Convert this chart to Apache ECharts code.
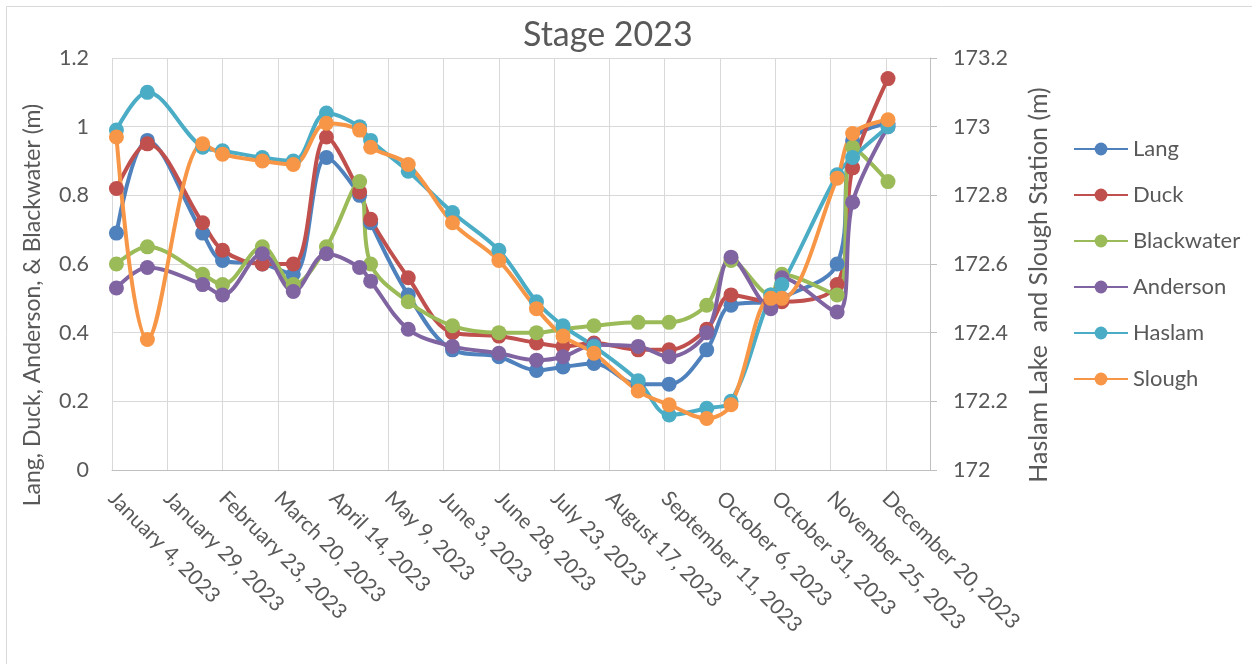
<!DOCTYPE html>
<html>
<head>
<meta charset="utf-8">
<script src="https://cdn.jsdelivr.net/npm/echarts@6/dist/echarts.min.js"></script>
<style>
html,body{margin:0;padding:0;background:#fff;}
#c{width:1252px;height:664px;}
</style>
</head>
<body>
<div id="c"></div>
<script>
// ---- data ----
const dates = ['2023-01-06','2023-01-20','2023-02-14','2023-02-23','2023-03-13','2023-03-27',
  '2023-04-11','2023-04-26','2023-05-01','2023-05-18','2023-06-07','2023-06-28',
  '2023-07-15','2023-07-27','2023-08-10','2023-08-30','2023-09-13','2023-09-30',
  '2023-10-11','2023-10-29','2023-11-03','2023-11-28','2023-12-05','2023-12-21'];
const lang       = [0.69,0.96,0.69,0.61,0.60,0.57,0.91,0.80,0.72,0.51,0.35,0.33,0.29,0.30,0.31,0.25,0.25,0.35,0.48,0.49,0.50,0.60,0.96,1.01];
const duck       = [0.82,0.95,0.72,0.64,0.60,0.60,0.97,0.81,0.73,0.56,0.40,0.39,0.37,0.36,0.37,0.35,0.35,0.41,0.51,0.49,0.49,0.54,0.88,1.14];
const blackwater = [0.60,0.65,0.57,0.54,0.65,0.54,0.65,0.84,0.60,0.49,0.42,0.40,0.40,0.41,0.42,0.43,0.43,0.48,0.61,0.51,0.57,0.51,0.94,0.84];
const anderson   = [0.53,0.59,0.54,0.51,0.63,0.52,0.63,0.59,0.55,0.41,0.36,0.34,0.32,0.33,0.365,0.36,0.33,0.40,0.62,0.47,0.56,0.46,0.78,1.00];
const haslam     = [172.99,173.10,172.94,172.93,172.91,172.90,173.04,173.00,172.96,172.87,172.75,172.64,172.49,172.42,172.36,172.26,172.16,172.18,172.20,172.51,172.54,172.86,172.91,173.00];
const slough     = [172.97,172.38,172.95,172.92,172.90,172.89,173.01,172.99,172.94,172.89,172.72,172.61,172.47,172.39,172.34,172.23,172.19,172.15,172.19,172.50,172.50,172.85,172.98,173.02];
const axisStart = '2023-01-04';
const axisEndDays = 370;
const tickDays = 25;
const titleText = 'Stage 2023';
const leftName = 'Lang, Duck, Anderson, & Blackwater (m)';
const rightName = 'Haslam Lake  and Slough Station (m)';

// ---- helpers ----
const DAY = 86400000;
const MONTHS = ['January','February','March','April','May','June','July','August','September','October','November','December'];
function utc(s){ const p = s.split('-').map(Number); return Date.UTC(p[0], p[1]-1, p[2]); }
const X0 = utc(axisStart);
function dayOf(s){ return Math.round((utc(s) - X0) / DAY); }
function fmt(v){ const d = new Date(X0 + v*DAY); return MONTHS[d.getUTCMonth()] + ' ' + d.getUTCDate() + ', ' + d.getUTCFullYear(); }
function pts(vals){ return dates.map((d,i) => [dayOf(d), vals[i]]); }

const FONT = 'Lato, "Liberation Sans", sans-serif';
const TXT = '#595959';

function line(name, vals, color, yIdx){
  return {
    name, type:'line', yAxisIndex:yIdx, data:pts(vals),
    smooth:0.35, symbol:'circle', symbolSize:15,
    lineStyle:{width:4, color}, itemStyle:{color},
    emphasis:{disabled:true}
  };
}

const chart = echarts.init(document.getElementById('c'), null, {renderer:'canvas'});
chart.setOption({
  animation:false,
  backgroundColor:'#fff',
  textStyle:{fontFamily:FONT},
  title:{text:titleText, left:518, top:13,
    textStyle:{fontSize:34, fontWeight:'normal', color:TXT, fontFamily:FONT}},
  graphic:[{type:'rect', silent:true, z:-1,
    shape:{x:6.5, y:6.5, width:1300, height:700},
    style:{fill:'none', stroke:'#d9d9d9', lineWidth:1}}],
  legend:{orient:'vertical', left:1068, top:133, itemWidth:54, itemHeight:16, itemGap:24,
    textStyle:{fontSize:22, color:TXT, fontFamily:FONT},
    data:['Lang','Duck','Blackwater','Anderson','Haslam','Slough']},
  grid:{left:112, right:322, top:58, bottom:194, containLabel:false},
  xAxis:{type:'value', min:0, max:axisEndDays, interval:tickDays,
    axisLine:{show:true, lineStyle:{color:'#bfbfbf', width:1}},
    axisTick:{show:false},
    splitLine:{show:true, lineStyle:{color:'#d9d9d9', width:1}},
    axisLabel:{rotate:-45, margin:25, fontSize:21, color:TXT, fontFamily:FONT,
      formatter:fmt, showMaxLabel:false}},
  yAxis:[
    {type:'value', position:'left', min:0, max:1.2, interval:0.2,
      axisLine:{show:false}, axisTick:{show:false},
      splitLine:{show:true, lineStyle:{color:'#d9d9d9', width:1}},
      axisLabel:{margin:23, fontSize:21.5, color:TXT, fontFamily:FONT},
      name:leftName, nameLocation:'middle', nameGap:68, nameRotate:90,
      nameTextStyle:{fontSize:23, color:TXT, fontFamily:FONT, padding:[0,82,0,0]}},
    {type:'value', position:'right', min:172, max:173.2, interval:0.2,
      axisLine:{show:true, lineStyle:{color:'#bfbfbf', width:1}},
      axisTick:{show:true, inside:false, length:7, lineStyle:{color:'#bfbfbf'}},
      splitLine:{show:false},
      axisLabel:{margin:23, fontSize:21.5, color:TXT, fontFamily:FONT},
      name:rightName, nameLocation:'middle', nameGap:96, nameRotate:90,
      nameTextStyle:{fontSize:25, color:TXT, fontFamily:FONT, padding:[0,42,0,0]}}
  ],
  series:[
    line('Lang', lang, '#4f81bd', 0),
    line('Duck', duck, '#c0504d', 0),
    line('Blackwater', blackwater, '#9bbb59', 0),
    line('Anderson', anderson, '#8064a2', 0),
    line('Haslam', haslam, '#4bacc6', 1),
    line('Slough', slough, '#f79646', 1)
  ]
});
</script>
</body>
</html>
